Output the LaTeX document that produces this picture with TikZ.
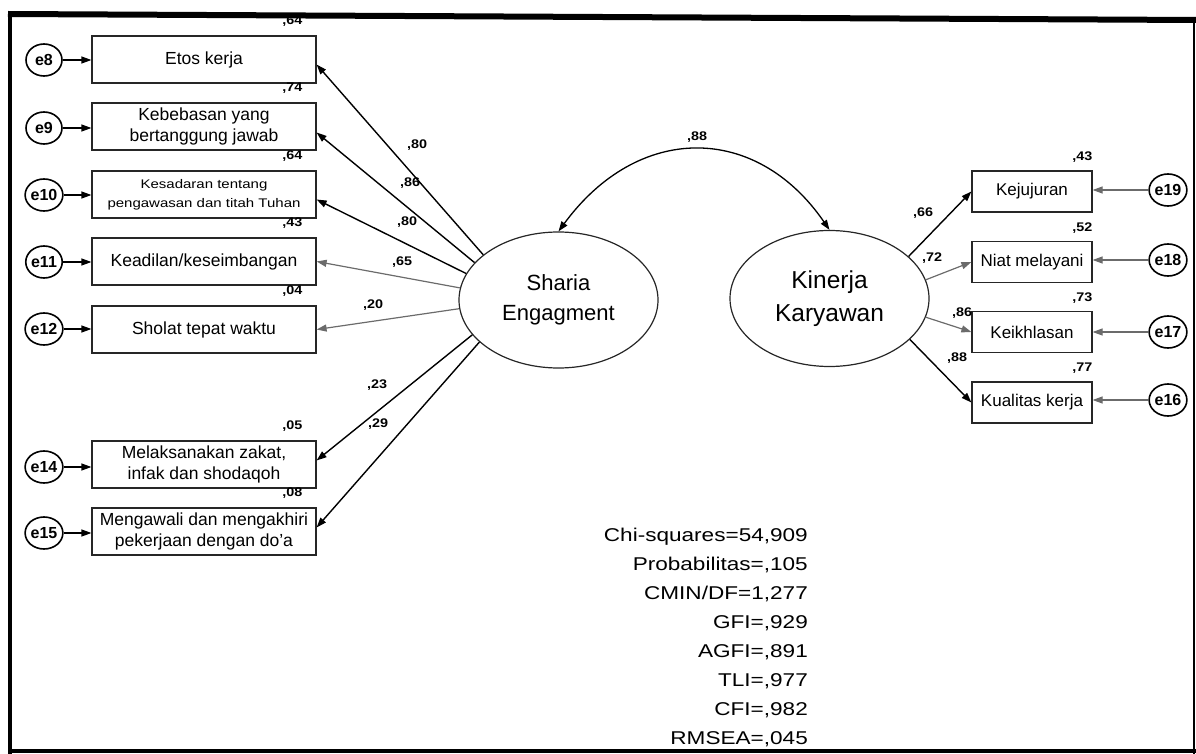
\documentclass[tikz,border=0pt]{standalone}
\usepackage{fontspec}
\setmainfont{Liberation Sans}
\newfontfamily\statfont[FakeStretch=1.22]{Liberation Sans}
\newfontfamily\smallfont[FakeStretch=1.2]{Liberation Sans}
\newfontfamily\numfont[FakeStretch=1.15]{Liberation Sans}
\usetikzlibrary{shapes.geometric,arrows.meta,calc}

\definecolor{lightline}{gray}{0.42}

\tikzset{
  ind/.style={draw=black!85, line width=1.2pt, minimum width=224pt, minimum height=47pt,
    inner sep=0pt, align=center, font=\fontsize{17.5}{21}\selectfont},
  indr/.style={ind, minimum width=120pt, minimum height=41pt, font=\fontsize{17}{20}\selectfont},
  err/.style={ellipse, draw, line width=1.6pt, minimum width=36pt, minimum height=32pt,
    inner sep=0pt, font=\bfseries\fontsize{16}{16}\selectfont},
  lat/.style={ellipse, draw=black!85, line width=1.2pt, minimum width=199pt, minimum height=136pt,
    inner sep=0pt, align=center},
  tip/.style={-{Triangle[length=10pt,width=7pt]}},
  load/.style={tip, line width=1.4pt, black},
  loadlight/.style={tip, line width=1.2pt, lightline},
  epath/.style={tip, line width=1.2pt, black},
  epathlight/.style={tip, line width=1.2pt, lightline},
  num/.style={inner sep=0pt, font=\numfont\bfseries\fontsize{12.5}{12.5}\selectfont},
  stat/.style={anchor=base east, inner sep=0pt, font=\statfont\fontsize{18.5}{20}\selectfont},
}

\begin{document}
\begin{tikzpicture}[x=1pt,y=-1pt]
\useasboundingbox (0,0) rectangle (1196,754);

% frame
\draw[line width=6pt] (8,14) -- (1196,20);
\draw[line width=4pt] (10,12) -- (10,754);
\draw[line width=4pt] (8,751) -- (1196,751);
\draw[line width=1.5pt] (1194,20) -- (1194,754);

% indicators of Sharia Engagment
\node[ind] (etos)   at (204,59.5)  {Etos kerja};
\node[ind] (bebas)  at (204,126.5) {Kebebasan yang\\bertanggung jawab};
\node[ind, font=\smallfont\fontsize{12.5}{19}\selectfont] (sadar) at (204,194.5)
  {Kesadaran tentang\\pengawasan dan titah Tuhan};
\node[ind] (adil)   at (204,261.5) {Keadilan/keseimbangan};
\node[ind] (sholat) at (204,329.5) {Sholat tepat waktu};
\node[ind] (zakat)  at (204,464.5) {Melaksanakan zakat,\\infak dan shodaqoh};
\node[ind] (doa)    at (204,531.5) {Mengawali dan mengakhiri\\pekerjaan dengan do'a};

% error terms, left
\node[err] (e8)  at (44,60)  {e8};
\node[err] (e9)  at (44,128) {e9};
\node[err] (e10) at (44,195) {e10};
\node[err] (e11) at (44,262) {e11};
\node[err] (e12) at (44,329) {e12};
\node[err] (e14) at (44,467) {e14};
\node[err] (e15) at (44,533) {e15};

\draw[epath] (e8)  -- (e8 -| etos.west);
\draw[epath] (e9)  -- (e9 -| bebas.west);
\draw[epath] (e10) -- (e10 -| sadar.west);
\draw[epath] (e11) -- (e11 -| adil.west);
\draw[epath] (e12) -- (e12 -| sholat.west);
\draw[epath] (e14) -- (e14 -| zakat.west);
\draw[epath] (e15) -- (e15 -| doa.west);

% squared multiple correlations, left
\node[num, anchor=east] at ([xshift=-14pt,yshift=14pt]etos.north east)   {,64};
\node[num, anchor=east] at ([xshift=-14pt,yshift=14pt]bebas.north east)  {,74};
\node[num, anchor=east] at ([xshift=-14pt,yshift=14pt]sadar.north east)  {,64};
\node[num, anchor=east] at ([xshift=-14pt,yshift=14pt]adil.north east)   {,43};
\node[num, anchor=east] at ([xshift=-14pt,yshift=14pt]sholat.north east) {,04};
\node[num, anchor=east] at ([xshift=-14pt,yshift=14pt]zakat.north east)  {,05};
\node[num, anchor=east] at ([xshift=-14pt,yshift=14pt]doa.north east)    {,08};

% latent constructs
\node[lat, font=\fontsize{22}{30}\selectfont] (sharia) at (558.5,300) {Sharia\\Engagment};
\node[lat, font=\fontsize{24.5}{33}\selectfont] (kin) at (829.5,298.5) {Kinerja\\Karyawan};

% loadings, Sharia Engagment
\draw[load]      (sharia.149.5) -- ([yshift=-5pt]etos.east);
\draw[load]      (sharia.156.6) -- ([yshift=-6pt]bebas.east);
\draw[load]      (sharia.164)   -- ([yshift=-5pt]sadar.east);
\draw[loadlight] (sharia.173)   -- (adil.east);
\draw[loadlight] (sharia.185.5) -- (sholat.east);
\draw[load]      (sharia.202)   -- ([yshift=4pt]zakat.east);
\draw[load]      (sharia.208)   -- ([yshift=4pt]doa.east);

\node[num] at (417,145) {,80};
\node[num] at (410,183) {,86};
\node[num] at (407,222) {,80};
\node[num] at (402,262) {,65};
\node[num] at (373,305) {,20};
\node[num] at (377,385) {,23};
\node[num] at (378,424) {,29};

% correlation between the constructs
\draw[line width=1.3pt, {Triangle[length=10pt,width=7pt]}-{Triangle[length=10pt,width=7pt]}]
  (sharia.north) .. controls (638,123) and (756,123) .. (kin.north);
\node[num] at (697,137) {,88};

% indicators of Kinerja Karyawan
\node[indr] (jujur)  at (1032,191.5) {Kejujuran};
\node[indr] (niat)   at (1032,262)   {Niat melayani};
\node[indr] (ikhlas) at (1032,332)   {Keikhlasan};
\node[indr] (kual)   at (1032,402.5) {Kualitas kerja};

\draw[load]      (kin.28)  -- (jujur.west);
\draw[loadlight] (kin.11)  -- (niat.west);
\draw[loadlight] (kin.-11) -- (ikhlas.west);
\draw[load]      (kin.-27) -- (kual.west);

\node[num] at (923,213) {,66};
\node[num] at (932,258) {,72};
\node[num] at (962,313) {,86};
\node[num] at (957,358) {,88};

\node[num, anchor=east] at ([yshift=13pt]jujur.north east)  {,43};
\node[num, anchor=east] at ([yshift=13pt]niat.north east)   {,52};
\node[num, anchor=east] at ([yshift=13pt]ikhlas.north east) {,73};
\node[num, anchor=east] at ([yshift=13pt]kual.north east)   {,77};

% error terms, right
\node[err] (e19) at (1168,190) {e19};
\node[err] (e18) at (1168,260) {e18};
\node[err] (e17) at (1168,332) {e17};
\node[err] (e16) at (1168,400) {e16};

\draw[epathlight] (e19) -- (e19 -| jujur.east);
\draw[epathlight] (e18) -- (e18 -| niat.east);
\draw[epathlight] (e17) -- (e17 -| ikhlas.east);
\draw[epathlight] (e16) -- (e16 -| kual.east);

% goodness-of-fit statistics
\node[stat] (chi)   at (808,541.5) {Chi-squares=54,909};
\node[stat] (prob)  at (808,570.5) {Probabilitas=,105};
\node[stat] (cmin)  at (808,599.5) {CMIN/DF=1,277};
\node[stat] (gfi)   at (808,628.5) {GFI=,929};
\node[stat] (agfi)  at (808,657.5) {AGFI=,891};
\node[stat] (tli)   at (808,686.5) {TLI=,977};
\node[stat] (cfi)   at (808,715.5) {CFI=,982};
\node[stat] (rmsea) at (808,744.5) {RMSEA=,045};
\end{tikzpicture}
\end{document}
